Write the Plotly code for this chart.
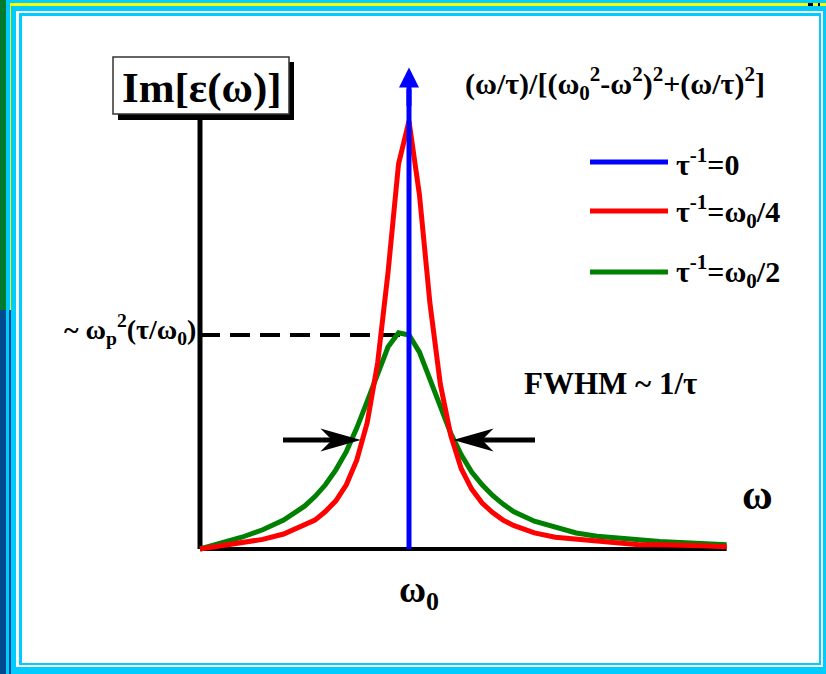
import plotly.graph_objects as go

# ---------------- data ----------------
omega = [0, 0.1, 0.2, 0.3, 0.4, 0.5, 0.55, 0.6, 0.65, 0.7,
         0.75, 0.8, 0.85, 0.9, 0.95, 1.0, 1.05, 1.1, 1.15, 1.2,
         1.25, 1.3, 1.35, 1.4, 1.45, 1.5, 1.6, 1.7, 1.8, 1.9,
         2.0, 2.1, 2.2, 2.3, 2.4, 2.52]
red_tau4 = [0, 0.03, 0.05, 0.09, 0.14, 0.22, 0.27, 0.35, 0.45, 0.60,
            0.83, 1.18, 1.74, 2.59, 3.60, 4.00, 3.31, 2.30, 1.54, 1.06,
            0.75, 0.56, 0.43, 0.34, 0.27, 0.22, 0.15, 0.11, 0.09, 0.07,
            0.05, 0.04, 0.04, 0.03, 0.03, 0.02]
green_tau2 = [0, 0.05, 0.11, 0.18, 0.27, 0.40, 0.49, 0.60, 0.74, 0.91,
              1.13, 1.38, 1.65, 1.89, 2.02, 2.00, 1.84, 1.59, 1.32, 1.08,
              0.88, 0.72, 0.60, 0.50, 0.42, 0.35, 0.26, 0.20, 0.15, 0.12,
              0.10, 0.08, 0.07, 0.06, 0.05, 0.04]
blue_x = [1.0, 1.0]
blue_y = [0.0, 4.3]
blue_tip = 4.5
axis_x_end = 2.52
axis_y_end = 4.03
half_max = 2.0

legend_labels = ["τ<sup>-1</sup>=0", "τ<sup>-1</sup>=ω<sub>0</sub>/4", "τ<sup>-1</sup>=ω<sub>0</sub>/2"]
legend_colors = ["#0000FF", "#FF0000", "#008000"]

W, H = 826, 674
FONT = "Liberation Serif"
CYAN = "#00CCFF"

def px(x, y):
    return x / W, 1 - y / H

def rect(x0, y0, x1, y1, color, line=None):
    a, b = px(x0, y0)
    c, d = px(x1, y1)
    return dict(type="rect", xref="paper", yref="paper", x0=a, y0=d, x1=c, y1=b,
                fillcolor=color, line=line or dict(width=0), layer="below")

def seg(x0, y0, x1, y1, color, width):
    a, b = px(x0, y0)
    c, d = px(x1, y1)
    return dict(type="line", xref="paper", yref="paper", x0=a, y0=b, x1=c, y1=d,
                line=dict(color=color, width=width))

def poly(points, color):
    p = []
    for i, (x, y) in enumerate(points):
        a, b = px(x, y)
        p.append(("M" if i == 0 else "L") + f"{a:.5f},{b:.5f}")
    return dict(type="path", xref="paper", yref="paper", path=" ".join(p) + " Z",
                fillcolor=color, line=dict(color=color, width=1.5))

fig = go.Figure()
fig.add_trace(go.Scatter(x=omega, y=green_tau2, mode="lines",
                         line=dict(color="#008000", width=5), showlegend=False))
fig.add_trace(go.Scatter(x=omega, y=red_tau4, mode="lines",
                         line=dict(color="#FF0000", width=5), showlegend=False))
fig.add_trace(go.Scatter(x=blue_x, y=blue_y, mode="lines",
                         line=dict(color="#0000FF", width=5), showlegend=False))

shapes = [
    rect(0, 0, 6, 310, "#007A2E"),
    rect(0, 310, 6, 674, "#004A8F"),
    rect(9, 310, 11, 674, "#004A8F"),
    rect(10, 3, 11, 310, "#FFFF00"),
    rect(10, 3, 826, 6, "#FFFF00"),
    rect(808, 3, 813, 6, "black"),
    rect(818, 3, 820, 6, "black"),
    rect(16, 11, 823, 667, "white"),
    rect(19, 13, 821, 665, CYAN),
    rect(22, 16, 819, 663, "white"),
    # axes
    dict(type="line", xref="x", yref="y", x0=0, y0=0, x1=0, y1=axis_y_end,
         line=dict(color="black", width=5), layer="below"),
    dict(type="line", xref="x", yref="y", x0=0, y0=0, x1=axis_x_end, y1=0,
         line=dict(color="black", width=4), layer="below"),
    # dashed half-height line
    dict(type="line", xref="x", yref="y", x0=0, y0=half_max, x1=1.0, y1=half_max,
         line=dict(color="black", width=4, dash="20px,10px"), layer="below"),
    # Im label box with shadow
    rect(118, 62, 294, 120, "black"),
    rect(113, 57, 289, 114, "white", line=dict(color="#333333", width=1.5)),
    # FWHM arrows
    seg(283, 440, 335, 440, "black", 5),
    poly([(358, 440), (323, 430), (333, 440), (323, 450)], "black"),
    seg(535, 440, 480, 440, "black", 5),
    poly([(456, 440), (491, 430), (481, 440), (491, 450)], "black"),
]

# legend lines
leg_y = [162, 211, 272]
for yy, col in zip(leg_y, legend_colors):
    shapes.append(seg(590, yy, 668, yy, col, 5))

ann = []
def text(x, y, t, size, xanchor="center", yanchor="middle"):
    a, b = px(x, y)
    ann.append(dict(x=a, y=b, xref="paper", yref="paper", text="<b>" + t + "</b>",
                    showarrow=False, xanchor=xanchor, yanchor=yanchor,
                    font=dict(family=FONT, size=size, color="black")))

text(202, 88, "Im[ε(ω)]", 43)
text(615, 84, "(ω/τ)/[(ω<sub>0</sub><sup>2</sup>-ω<sup>2</sup>)<sup>2</sup>+(ω/τ)<sup>2</sup>]", 30)
for yy, lab in zip(leg_y, legend_labels):
    text(674, yy, lab, 30, xanchor="left")
text(198, 330, "~ ω<sub>p</sub><sup>2</sup>(τ/ω<sub>0</sub>)", 28, xanchor="right")
text(610, 383, "FWHM ~ 1/τ", 31)
text(757, 495, "ω", 42)
text(419, 592, "ω<sub>0</sub>", 37)

# blue arrow head
ann.append(dict(x=1.0, y=blue_tip, xref="x", yref="y", ax=0, ay=40,
                showarrow=True, arrowhead=2, arrowsize=0.8, arrowwidth=5,
                arrowcolor="#0000FF", text=""))

fig.update_layout(
    width=W, height=H, margin=dict(l=0, r=0, t=0, b=0),
    paper_bgcolor=CYAN, plot_bgcolor="rgba(0,0,0,0)",
    xaxis=dict(range=[-200 / 209, 626 / 209], visible=False, fixedrange=True),
    yaxis=dict(range=[-125 / 107, 549 / 107], visible=False, fixedrange=True),
    shapes=shapes, annotations=ann, showlegend=False,
)
fig.write_html("out.html", config={"displayModeBar": False},
               post_script="document.body.style.margin='0px';")
